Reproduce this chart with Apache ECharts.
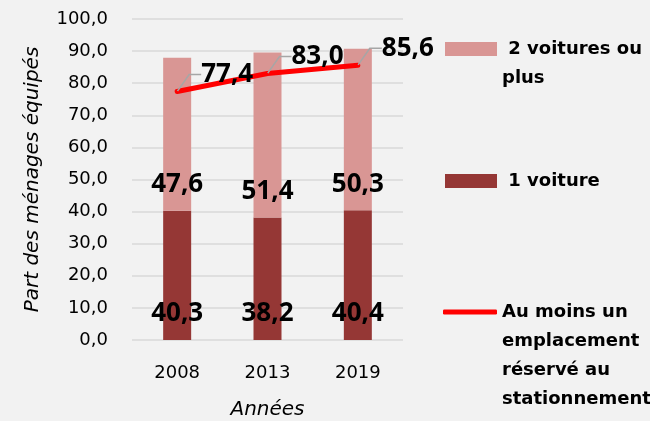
<!DOCTYPE html>
<html>
<head>
<meta charset="utf-8">
<script src="https://cdn.jsdelivr.net/npm/echarts@6/dist/echarts.min.js"></script>
<style>
  html, body { margin: 0; padding: 0; background: #f2f2f2; }
  #chart { width: 650px; height: 421px; }
</style>
</head>
<body>
<div id="chart"></div>
<script>
// Household car equipment by survey year
const years = ['2008', '2013', '2019'];
const uneVoiture = [40.3, 38.2, 40.4];
const deuxVoituresOuPlus = [47.6, 51.4, 50.3];
const emplacementReserve = [77.4, 83.0, 85.6];

const seriesNames = ['2 voitures ou plus', '1 voiture', 'Au moins un emplacement réservé au stationnement'];
const legendTexts = [' 2 voitures ou\nplus', ' 1 voiture', 'Au moins un\nemplacement\nréservé au\nstationnement'];

const FONT = 'DejaVu Sans';
const VALUE_FONT = 'Open Sans';
const fmt = v => v.toFixed(1).replace('.', ',');

const PINK = '#d99694';
const DARK = '#953735';
const RED = '#ff0000';
const LEG_LH = 29;

// Legend text is centred on its icon; leading blank lines push the first
// line of a multi-line entry level with the icon.
function legendFor(idx, icon, color, iconCenterY, left, w, h) {
  const lines = legendTexts[idx].split('\n').length;
  const total = 2 * lines - 1;
  return {
    left: left, top: iconCenterY - total * LEG_LH / 2, padding: 0, orient: 'vertical',
    itemWidth: w, itemHeight: h, icon: icon,
    selectedMode: false,
    data: [{ name: seriesNames[idx], itemStyle: { color: color } }],
    formatter: () => '\n'.repeat(lines - 1) + legendTexts[idx],
    textStyle: {
      fontFamily: FONT, fontWeight: 'bold', fontSize: 18, color: '#000',
      lineHeight: LEG_LH
    }
  };
}

const valueLabel = {
  show: true, position: 'insideBottom', distance: 13,
  fontFamily: VALUE_FONT, fontWeight: 'bold', fontSize: 26, color: '#000',
  formatter: p => fmt(p.value)
};

const chart = echarts.init(document.getElementById('chart'), null, { renderer: 'canvas' });
chart.setOption({
  backgroundColor: '#f2f2f2',
  animation: false,
  grid: { left: 132, right: 247, top: 19, bottom: 81, outerBoundsMode: 'none', containLabel: false },
  legend: [
    legendFor(0, 'rect', PINK, 49, 445, 52, 14),
    legendFor(1, 'rect', DARK, 181, 445, 52, 14),
    legendFor(2, 'roundRect', RED, 312, 443, 54, 5)
  ],
  xAxis: {
    type: 'category',
    data: years,
    axisLine: { show: false },
    axisTick: { show: false },
    axisLabel: { fontFamily: FONT, fontSize: 18, color: '#000', margin: 24 },
    name: 'Années',
    nameLocation: 'middle',
    nameGap: 60,
    nameTextStyle: { fontFamily: FONT, fontSize: 20, fontStyle: 'italic', color: '#000' }
  },
  yAxis: {
    type: 'value',
    min: 0, max: 100, interval: 10,
    axisLine: { show: false },
    axisTick: { show: false },
    splitLine: { lineStyle: { color: '#d9d9d9', width: 1.5 } },
    axisLabel: { fontFamily: FONT, fontSize: 18, color: '#000', margin: 24, formatter: v => fmt(v) },
    name: 'Part des ménages équipés',
    nameLocation: 'middle',
    nameGap: 89,
    nameTextStyle: { fontFamily: FONT, fontSize: 20, fontStyle: 'italic', color: '#000' }
  },
  series: [
    {
      name: seriesNames[1],
      type: 'bar', stack: 'total', barWidth: 28,
      data: uneVoiture,
      itemStyle: { color: DARK },
      label: valueLabel
    },
    {
      name: seriesNames[0],
      type: 'bar', stack: 'total', barWidth: 28,
      data: deuxVoituresOuPlus,
      itemStyle: { color: PINK },
      label: valueLabel
    },
    {
      name: seriesNames[2],
      type: 'line',
      data: emplacementReserve,
      symbol: 'circle', symbolSize: 1, showSymbol: true,
      itemStyle: { color: RED },
      lineStyle: { color: RED, width: 5, cap: 'round', join: 'round' },
      label: {
        show: true, position: 'inside', padding: [0, 0, 0, 8],
        fontFamily: VALUE_FONT, fontWeight: 'bold', fontSize: 26, color: '#000',
        formatter: p => fmt(p.value)
      },
      labelLayout: { dx: 46, dy: -17 },
      labelLine: { show: true, length2: 12, lineStyle: { color: '#a6a6a6', width: 1.5 } }
    }
  ]
});
</script>
</body>
</html>
